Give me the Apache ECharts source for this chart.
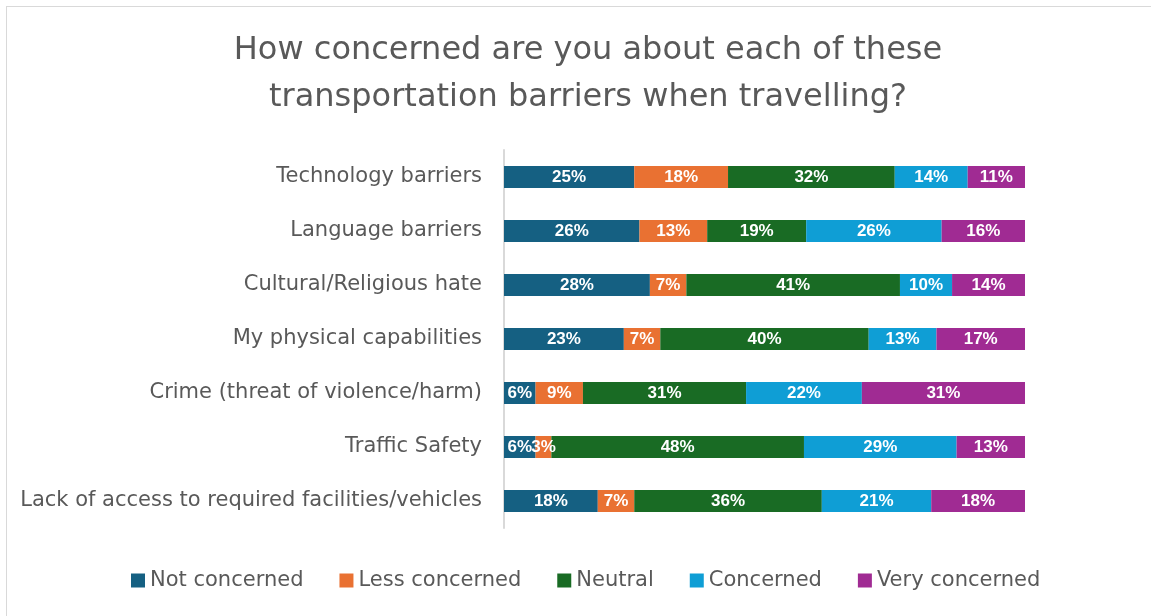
<!DOCTYPE html>
<html>
<head>
<meta charset="utf-8">
<script src="https://cdn.jsdelivr.net/npm/echarts@6/dist/echarts.min.js"></script>
<style>
html,body{margin:0;padding:0;background:#fff;overflow:hidden;}
#chart{position:absolute;left:0;top:0;width:1151px;height:616px;}
#frame{position:absolute;left:6px;top:6px;width:1200px;height:700px;border-left:1px solid #d9d9d9;border-top:1px solid #d9d9d9;pointer-events:none;}
</style>
</head>
<body>
<div id="chart"></div>
<div id="frame"></div>
<script>
const titleLines = ['How concerned are you about each of these', 'transportation barriers when travelling?'];
const categories = [
  'Technology barriers',
  'Language barriers',
  'Cultural/Religious hate',
  'My physical capabilities',
  'Crime (threat of violence/harm)',
  'Traffic Safety',
  'Lack of access to required facilities/vehicles'
];
const seriesNames = ['Not concerned', 'Less concerned', 'Neutral', 'Concerned', 'Very concerned'];
const colors = ['#156082', '#E97132', '#196B24', '#0F9ED5', '#A02B93'];
const notConcerned  = [25, 26, 28, 23, 6, 6, 18];
const lessConcerned = [18, 13, 7, 7, 9, 3, 7];
const neutral       = [32, 19, 41, 40, 31, 48, 36];
const concerned     = [14, 26, 10, 13, 22, 29, 21];
const veryConcerned = [11, 16, 14, 17, 31, 13, 18];

const allSeries = [notConcerned, lessConcerned, neutral, concerned, veryConcerned];
const rowSums = categories.map((c, i) => allSeries.reduce((s, arr) => s + arr[i], 0));

const FONT = 'DejaVu Sans, sans-serif';
const chart = echarts.init(document.getElementById('chart'), null, {renderer: 'canvas'});
const option = {
  animation: false,
  backgroundColor: '#ffffff',
  title: {
    text: titleLines.join('\n'),
    left: 583, top: 22, textAlign: 'center',
    textStyle: {fontFamily: FONT, fontSize: 32, fontWeight: 'normal', color: '#595959', lineHeight: 47}
  },
  legend: {
    data: seriesNames,
    bottom: 20, left: 126,
    itemWidth: 14, itemHeight: 14, itemGap: 36,
    icon: 'rect',
    textStyle: {fontFamily: FONT, fontSize: 21, color: '#595959', padding: [0, 0, 0, 0]}
  },
  grid: {left: 504, top: 150, width: 521, height: 378, containLabel: false},
  xAxis: {
    type: 'value', min: 0, max: 100, show: false
  },
  yAxis: {
    type: 'category', data: categories, inverse: true,
    axisLine: {show: true, lineStyle: {color: '#d9d9d9', width: 2}},
    axisTick: {show: false},
    axisLabel: {fontFamily: FONT, fontSize: 21, color: '#595959', margin: 22}
  },
  series: seriesNames.map((name, si) => ({
    name: name, type: 'bar', stack: 'total',
    barWidth: 22,
    itemStyle: {color: colors[si]},
    label: {
      show: true, position: 'inside', color: '#ffffff',
      fontFamily: 'Liberation Sans, Arial, sans-serif', fontWeight: 'bold', fontSize: 17,
      formatter: p => allSeries[si][p.dataIndex] + '%'
    },
    data: allSeries[si].map((v, i) => v / rowSums[i] * 100)
  }))
};
chart.setOption(option);
</script>
</body>
</html>
